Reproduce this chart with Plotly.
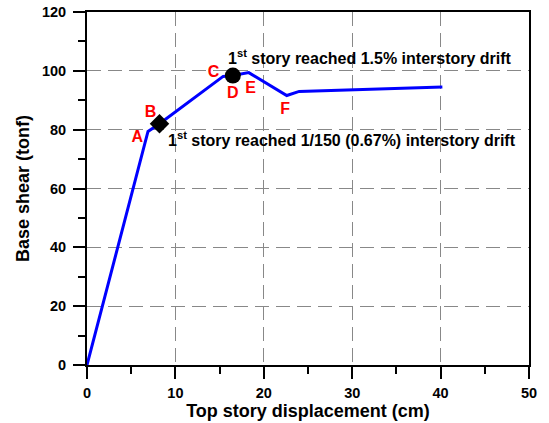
import plotly.graph_objects as go

disp = [0, 6.9, 8.2, 15.4, 16.5, 18.3, 22.6, 24.0, 40.2]
shear = [0, 79.4, 82.0, 98.1, 98.4, 99.4, 91.6, 93.0, 94.5]

pt_labels = ["A", "B", "C", "D", "E", "F"]
pt_x = [5.7, 7.2, 14.3, 16.5, 18.5, 22.4]
pt_y = [77.0, 85.8, 99.3, 92.0, 93.8, 86.8]

drift_x = [8.2, 16.5]
drift_y = [82.0, 98.4]

font = "Liberation Sans, Arial, sans-serif"

fig = go.Figure()
fig.add_trace(go.Scatter(x=disp, y=shear, mode="lines",
                         line=dict(color="#0000ff", width=3), showlegend=False))
fig.add_trace(go.Scatter(x=[drift_x[0]], y=[drift_y[0]], mode="markers",
                         marker=dict(symbol="diamond", size=15, color="black"), showlegend=False))
fig.add_trace(go.Scatter(x=[drift_x[1]], y=[drift_y[1]], mode="markers",
                         marker=dict(symbol="circle", size=16, color="black"), showlegend=False))
fig.add_trace(go.Scatter(x=pt_x, y=pt_y, mode="text", text=[f"<b>{t}</b>" for t in pt_labels],
                         textfont=dict(color="#ff0000", size=16, family=font), showlegend=False))

fig.add_annotation(x=15.75, y=104.8, xanchor="left", yanchor="middle", showarrow=False,
                   text="<b>1<sup>st</sup> story reached 1.5% interstory drift</b>",
                   font=dict(size=16, color="black", family=font))
fig.add_annotation(x=8.9, y=76.7, xanchor="left", yanchor="middle", showarrow=False,
                   text="<b>1<sup>st</sup> story reached 1/150 (0.67%) interstory drift</b>",
                   font=dict(size=16, color="black", family=font))

axis_common = dict(showline=True, linecolor="black", linewidth=2, mirror=True,
                   showgrid=True, gridcolor="#888888", griddash="14px,7px", gridwidth=1.3,
                   ticks="outside", ticklen=12, tickwidth=2, tickcolor="black",
                   zeroline=False, automargin=False,
                   tickfont=dict(size=14.5, color="black", family=font),
                   title_font=dict(size=18, color="black", family=font))

fig.update_xaxes(range=[0, 50], tickvals=[0, 10, 20, 30, 40, 50],
                 ticktext=[f"<b>{v}</b>" for v in [0, 10, 20, 30, 40, 50]],
                 minor=dict(dtick=5, ticks="outside", ticklen=7, tickwidth=2, tickcolor="black", showgrid=False),
                 ticklabelstandoff=2,
                 title=dict(text="<b>Top story displacement (cm)</b>", standoff=0),
                 **axis_common)
fig.update_yaxes(range=[0, 120], tickvals=[0, 20, 40, 60, 80, 100, 120],
                 ticktext=[f"<b>{v}</b>" for v in [0, 20, 40, 60, 80, 100, 120]],
                 minor=dict(dtick=10, ticks="outside", ticklen=7, tickwidth=2, tickcolor="black", showgrid=False),
                 ticklabelstandoff=4,
                 title=dict(text="<b>Base shear (tonf)</b>", standoff=8),
                 **axis_common)

fig.update_layout(width=549, height=423, margin=dict(l=87, r=20, t=12, b=58),
                  plot_bgcolor="white", paper_bgcolor="white",
                  font=dict(family=font, color="black"))

fig.write_html("out.html")
